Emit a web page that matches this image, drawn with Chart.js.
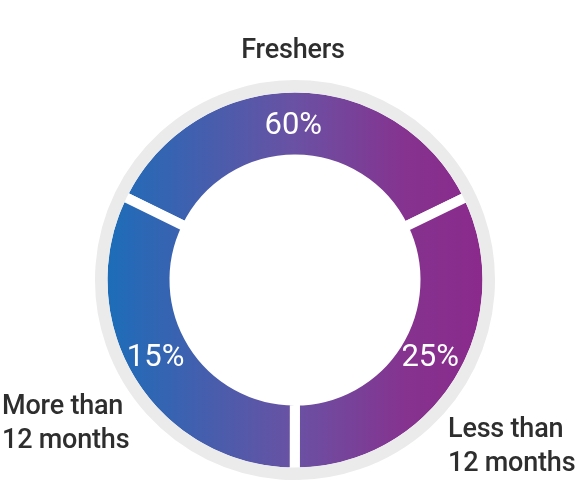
<!DOCTYPE html>
<html>
<head>
<meta charset="utf-8">
<script src="https://cdn.jsdelivr.net/npm/chart.js@4.4.0/dist/chart.umd.min.js"></script>
<style>
  html, body { margin: 0; padding: 0; background: #fff; overflow: hidden; }
  #wrap { position: relative; width: 577px; height: 480px; }
</style>
</head>
<body>
<div id="wrap"><canvas id="graficoExperiencia"></canvas></div>
<script>
const categories = [["Freshers"], ["Less than", "12 months"], ["More than", "12 months"]];
const shares = ["60%", "25%", "15%"];
// slice sizes as drawn in the picture (the artwork is not to scale)
const arcSizes = [35.6, 32.2, 32.2];

let gradiente = null;
function degradado(context) {
  const chart = context.chart;
  const area = chart.chartArea;
  if (!area) return "#6a51a3";
  if (!gradiente) {
    const cx = (area.left + area.right) / 2;
    const g = chart.ctx.createLinearGradient(cx - 189, 0, cx + 189, 0);
    g.addColorStop(0, "#1c6db9");
    g.addColorStop(0.5, "#6a51a3");
    g.addColorStop(0.8, "#86328f");
    g.addColorStop(1, "#8a2a8c");
    gradiente = g;
  }
  return gradiente;
}

// percentages inside the ring and the category names around it
const etiquetas = {
  id: "etiquetas",
  afterDatasetsDraw(chart) {
    const ctx = chart.ctx;
    const area = chart.chartArea;
    const cx = (area.left + area.right) / 2;
    const arcs = chart.getDatasetMeta(1).data;

    ctx.save();
    ctx.fillStyle = "#fff";
    ctx.font = "31px Roboto";
    ctx.textAlign = "center";
    ctx.textBaseline = "middle";
    arcs.forEach((arc, i) => {
      const mid = (arc.startAngle + arc.endAngle) / 2;
      // side labels sit a little closer to the horizontal than the slice middle
      const ang = mid - 0.065 * Math.sin(2 * mid);
      const r = (arc.innerRadius + arc.outerRadius) / 2;
      ctx.fillText(shares[i], arc.x + Math.cos(ang) * r - 2, arc.y + Math.sin(ang) * r + 3);
    });

    const sitios = [
      { x: cx - 2, y: 58, align: "center" },
      { x: cx + 153, y: 437, align: "left" },
      { x: 2, y: 414, align: "left" }
    ];
    ctx.fillStyle = "#2e2e2e";
    ctx.font = "500 27px Roboto";
    ctx.letterSpacing = "-0.2px";
    ctx.textBaseline = "alphabetic";
    categories.forEach((lineas, i) => {
      const s = sitios[i];
      ctx.textAlign = s.align;
      lineas.forEach((t, j) => ctx.fillText(t, s.x, s.y + j * 33.5));
    });
    ctx.restore();
  }
};

new Chart(document.getElementById("graficoExperiencia"), {
  type: "doughnut",
  data: {
    labels: categories,
    datasets: [
      {
        data: [1],
        backgroundColor: "#ebebeb",
        borderColor: "#ebebeb",
        borderWidth: 10,
        weight: 2.5,
        clip: false
      },
      {
        data: arcSizes,
        backgroundColor: degradado,
        borderColor: "#fff",
        borderWidth: 10,
        weight: 72,
        clip: false
      }
    ]
  },
  options: {
    responsive: true,
    maintainAspectRatio: false,
    animation: false,
    events: [],
    rotation: -64,
    cutout: "61.8%",
    layout: { padding: { left: 95, right: 82, top: 80, bottom: 0 } },
    plugins: {
      legend: { display: false },
      tooltip: { enabled: false }
    }
  },
  plugins: [etiquetas]
});
</script>
</body>
</html>
